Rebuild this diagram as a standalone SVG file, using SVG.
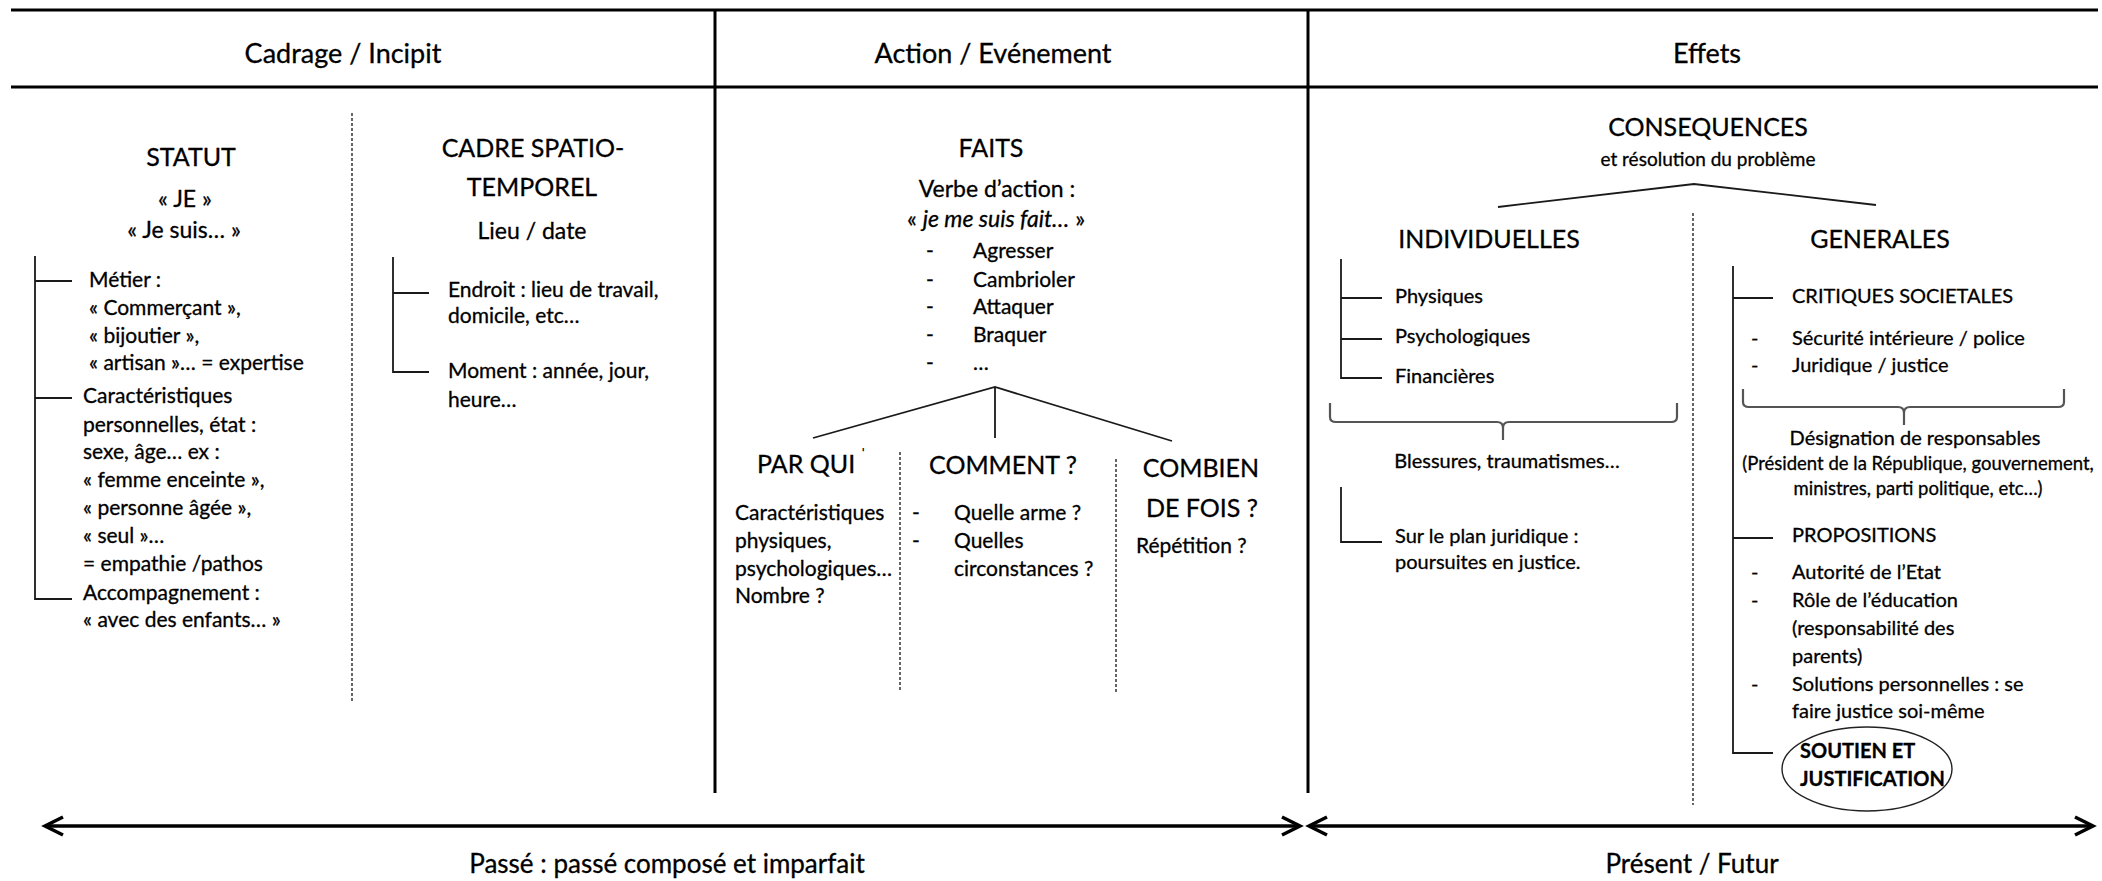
<svg xmlns="http://www.w3.org/2000/svg" width="2102" height="881" viewBox="0 0 2102 881">
<defs>
<style>
text{font-family:Lato,"Open Sans","Liberation Sans",sans-serif;fill:#000;stroke:#000;stroke-width:0.3}
.h{font-size:27px}
.ft{font-size:26px}
.t{font-size:25px}
.m{font-size:23px}
.b{font-size:21px}
.c{font-size:20px}
.sm{font-size:19px}
.xs{font-size:18.5px}
.bold{font-weight:bold}
.it{font-style:italic}
.mid{text-anchor:middle}
.frame{stroke:#000;stroke-width:3;fill:none}
.tree{stroke:#1a1a1a;stroke-width:1.8;fill:none}
.dot{stroke:#333;stroke-width:1.5;stroke-dasharray:3 2;fill:none}
.brace{stroke:#555;stroke-width:2.2;fill:none}
.arrow{stroke:#000;stroke-width:3.5;fill:none}
</style>
<marker id="ah" viewBox="-22 -12 26 24" refX="0" refY="0" markerWidth="26" markerHeight="24" markerUnits="userSpaceOnUse" orient="auto-start-reverse">
<path d="M-18,-9 L0,0 L-18,9" fill="none" stroke="#000" stroke-width="3.5"/>
</marker>
</defs>
<g id="frame">
<path class="frame" d="M11,10 H2098 M11,87 H2098 M715,10 V793 M1308,10 V793"/>
</g>
<g id="connectors">
<path class="arrow" d="M45,826 H1300" marker-start="url(#ah)" marker-end="url(#ah)"/>
<path class="arrow" d="M1309,826 H2093" marker-start="url(#ah)" marker-end="url(#ah)"/>
<path class="dot" d="M352,113 V703 M900,452 V692 M1116,459 V692 M1693,213 V805"/>
<path class="tree" d="M35,256 V599 H72 M35,281 H72 M35,398 H72"/>
<path class="tree" d="M393,257 V372 H429 M393,293 H429"/>
<path class="tree" d="M813,438 L995,387 L1172,441 M995,387 V438"/>
<path class="tree" d="M1498,207 L1694,184 L1876,205"/>
<path class="tree" d="M1341,259 V378 H1382 M1341,298 H1382 M1341,339 H1382"/>
<path class="tree" d="M1341,487 V542 H1382"/>
<path class="tree" d="M1733,266 V753 H1773 M1733,298 H1773 M1733,538 H1773"/>
<path class="brace" d="M1330,403 V417 Q1330,422 1336,422 H1497 Q1503,422 1503,428 V440 M1677,403 V417 Q1677,422 1671,422 H1509 Q1503,422 1503,428"/>
<path class="brace" d="M1743,389 V402 Q1743,407 1749,407 H1898 Q1904,407 1904,413 V425 M2064,389 V402 Q2064,407 2058,407 H1910 Q1904,407 1904,413"/>
</g>
<g id="headers">
<text class="h mid" x="343" y="63">Cadrage / Incipit</text>
<text class="h mid" x="993" y="63">Action / Evénement</text>
<text class="h mid" x="1707" y="63">Effets</text>
</g>
<g id="statut">
<text class="t mid" x="191" y="166">STATUT</text>
<text class="m mid" x="185" y="207">« JE »</text>
<text class="m mid" x="184" y="238">« Je suis… »</text>
<text class="b" x="89" y="287">Métier :</text>
<text class="b" x="89" y="315">« Commerçant »,</text>
<text class="b" x="89" y="343">« bijoutier »,</text>
<text class="b" x="89" y="370">« artisan »… = expertise</text>
<text class="b" x="83" y="403">Caractéristiques</text>
<text class="b" x="83" y="432">personnelles, état :</text>
<text class="b" x="83" y="459">sexe, âge… ex :</text>
<text class="b" x="83" y="487">« femme enceinte »,</text>
<text class="b" x="83" y="515">« personne âgée »,</text>
<text class="b" x="83" y="543">« seul »…</text>
<text class="b" x="83" y="571">= empathie /pathos</text>
<text class="b" x="83" y="600">Accompagnement :</text>
<text class="b" x="83" y="627">« avec des enfants… »</text>
</g>
<g id="cadre">
<text class="t mid" x="533" y="157">CADRE SPATIO-</text>
<text class="t mid" x="532" y="196">TEMPOREL</text>
<text class="m mid" x="532" y="239">Lieu / date</text>
<text class="b" x="448" y="297">Endroit : lieu de travail,</text>
<text class="b" x="448" y="323">domicile, etc…</text>
<text class="b" x="448" y="378">Moment : année, jour,</text>
<text class="b" x="448" y="407">heure…</text>
</g>
<g id="faits">
<text class="t mid" x="991" y="157">FAITS</text>
<text class="m mid" x="997" y="197">Verbe d’action :</text>
<text class="m mid" x="996" y="227">« <tspan class="it">je me suis fait…</tspan> »</text>
<text class="b mid" x="930" y="258">-</text>
<text class="b mid" x="930" y="287">-</text>
<text class="b mid" x="930" y="314">-</text>
<text class="b mid" x="930" y="342">-</text>
<text class="b mid" x="930" y="370">-</text>
<text class="b" x="973" y="258">Agresser</text>
<text class="b" x="973" y="287">Cambrioler</text>
<text class="b" x="973" y="314">Attaquer</text>
<text class="b" x="973" y="342">Braquer</text>
<text class="b" x="973" y="370">…</text>
</g>
<g id="parqui">
<text class="t" x="757" y="473">PAR QUI <tspan font-size="14" dy="-14">ˈ</tspan></text>
<text class="b" x="735" y="520">Caractéristiques</text>
<text class="b" x="735" y="548">physiques,</text>
<text class="b" x="735" y="576">psychologiques…</text>
<text class="b" x="735" y="603">Nombre ?</text>
</g>
<g id="comment">
<text class="t mid" x="1003" y="474">COMMENT ?</text>
<text class="b" x="912" y="520">-</text>
<text class="b" x="912" y="548">-</text>
<text class="b" x="954" y="520">Quelle arme ?</text>
<text class="b" x="954" y="548">Quelles</text>
<text class="b" x="954" y="576">circonstances ?</text>
</g>
<g id="combien">
<text class="t mid" x="1201" y="477">COMBIEN</text>
<text class="t mid" x="1202" y="517">DE FOIS ?</text>
<text class="b" x="1136" y="553">Répétition ?</text>
</g>
<g id="consequences">
<text class="t mid" x="1708" y="136">CONSEQUENCES</text>
<text class="sm mid" x="1708" y="166">et résolution du problème</text>
</g>
<g id="individuelles">
<text class="t mid" x="1489" y="248">INDIVIDUELLES</text>
<text class="c" x="1395" y="303">Physiques</text>
<text class="c" x="1395" y="343">Psychologiques</text>
<text class="c" x="1395" y="383">Financières</text>
<text class="c mid" x="1507" y="468">Blessures, traumatismes…</text>
<text class="c" x="1395" y="543">Sur le plan juridique  :</text>
<text class="c" x="1395" y="569">poursuites en justice.</text>
</g>
<g id="generales">
<text class="t mid" x="1880" y="248">GENERALES</text>
<text class="c" x="1792" y="303">CRITIQUES SOCIETALES</text>
<text class="c" x="1751" y="345">-</text>
<text class="c" x="1751" y="372">-</text>
<text class="c" x="1792" y="345">Sécurité intérieure / police</text>
<text class="c" x="1792" y="372">Juridique / justice</text>
<text class="c mid" x="1915" y="445">Désignation de responsables</text>
<text class="xs mid" x="1918" y="470">(Président de la République, gouvernement,</text>
<text class="xs mid" x="1918" y="495">ministres, parti politique, etc…)</text>
<text class="c" x="1792" y="542">PROPOSITIONS</text>
<text class="c" x="1751" y="579">-</text>
<text class="c" x="1751" y="607">-</text>
<text class="c" x="1751" y="691">-</text>
<text class="c" x="1792" y="579">Autorité de l’Etat</text>
<text class="c" x="1792" y="607">Rôle de l’éducation</text>
<text class="c" x="1792" y="635">(responsabilité des</text>
<text class="c" x="1792" y="663">parents)</text>
<text class="c" x="1792" y="691">Solutions personnelles : se</text>
<text class="c" x="1792" y="718">faire justice soi-même</text>
</g>
<g id="soutien">
<ellipse cx="1867" cy="769" rx="85" ry="42" fill="none" stroke="#222" stroke-width="1.4"/>
<text class="c bold" x="1800" y="758">SOUTIEN ET</text>
<text class="c bold" x="1800" y="786">JUSTIFICATION</text>
</g>
<g id="timeline">
<text class="ft mid" x="667" y="873">Passé : passé composé et imparfait</text>
<text class="ft mid" x="1692" y="873">Présent / Futur</text>
</g>
</svg>
